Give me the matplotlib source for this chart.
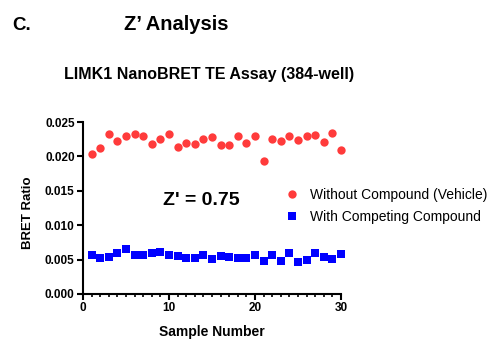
import matplotlib
matplotlib.use("Agg")
import matplotlib.pyplot as plt
from matplotlib.ticker import MultipleLocator, FormatStrFormatter

plt.rcParams['font.family'] = ['Liberation Sans', 'DejaVu Sans']

samples = list(range(1, 31))
vehicle = [0.0203, 0.0212, 0.0232, 0.0222, 0.0230, 0.0233, 0.0229, 0.0218, 0.0225, 0.0233,
           0.0213, 0.0219, 0.0218, 0.0225, 0.0228, 0.0216, 0.0216, 0.0230, 0.0219, 0.0230,
           0.0193, 0.0226, 0.0223, 0.0230, 0.0224, 0.0229, 0.0231, 0.0221, 0.0234, 0.0210]
competing = [0.0056, 0.0052, 0.0054, 0.0059, 0.0066, 0.0056, 0.0056, 0.0060, 0.0061, 0.0056,
             0.0055, 0.0052, 0.0052, 0.0057, 0.0051, 0.0055, 0.0054, 0.0052, 0.0052, 0.0056,
             0.0048, 0.0056, 0.0048, 0.0059, 0.0046, 0.0049, 0.0059, 0.0054, 0.0051, 0.0058]
series_labels = ["Without Compound (Vehicle)", "With Competing Compound"]

W, H = 502, 353
fig = plt.figure(figsize=(W / 100, H / 100), dpi=100)
ax = fig.add_axes([83 / W, 1 - 294 / H, (341 - 83) / W, (294 - 122) / H])

ax.plot(samples, vehicle, 'o', color='#FF3B3B', markersize=6, markeredgewidth=0,
        label=series_labels[0], clip_on=False)
ax.plot(samples, competing, 's', color='#0000FF', markersize=6, markeredgewidth=0,
        label=series_labels[1], clip_on=False)

ax.set_xlim(0, 30)
ax.set_ylim(0, 0.025)
ax.xaxis.set_major_locator(MultipleLocator(10))
ax.xaxis.set_minor_locator(MultipleLocator(1))
ax.yaxis.set_major_locator(MultipleLocator(0.005))
ax.yaxis.set_major_formatter(FormatStrFormatter('%.3f'))
for s in ['top', 'right']:
    ax.spines[s].set_visible(False)
for s in ['left', 'bottom']:
    ax.spines[s].set_linewidth(1.5)
ax.tick_params(which='major', length=4, width=1.5, labelsize=8.5, pad=2)
ax.tick_params(which='minor', length=2.5, width=1.2)
for lab in ax.get_xticklabels() + ax.get_yticklabels():
    lab.set_fontweight('bold')

leg = ax.legend(loc='upper left', bbox_to_anchor=(285 / W, 1 - 188 / H), bbox_transform=fig.transFigure,
                frameon=False, fontsize=10, handletextpad=0.8, handlelength=1.0,
                labelspacing=0.55, borderaxespad=0, borderpad=0)

fig.text(12 / W, 1 - 25 / H, "C.", fontsize=13.5, fontweight='bold', va='center', ha='left')
fig.text(176 / W, 1 - 25 / H, "Z\u2019 Analysis", fontsize=14.5, fontweight='bold', va='center', ha='center')
fig.text(209 / W, 1 - 75 / H, "LIMK1 NanoBRET TE Assay (384-well)", fontsize=11.5, fontweight='bold',
         va='center', ha='center')
fig.text(163 / W, 1 - 201 / H, "Z' = 0.75", fontsize=14, fontweight='bold', va='center', ha='left')
fig.text(28 / W, 1 - 213 / H, "BRET Ratio", fontsize=9.5, fontweight='bold', va='center', ha='center',
         rotation=90)
fig.text(212 / W, 1 - 332 / H, "Sample Number", fontsize=10, fontweight='bold', va='center', ha='center')

fig.savefig("out.png", dpi=100)
